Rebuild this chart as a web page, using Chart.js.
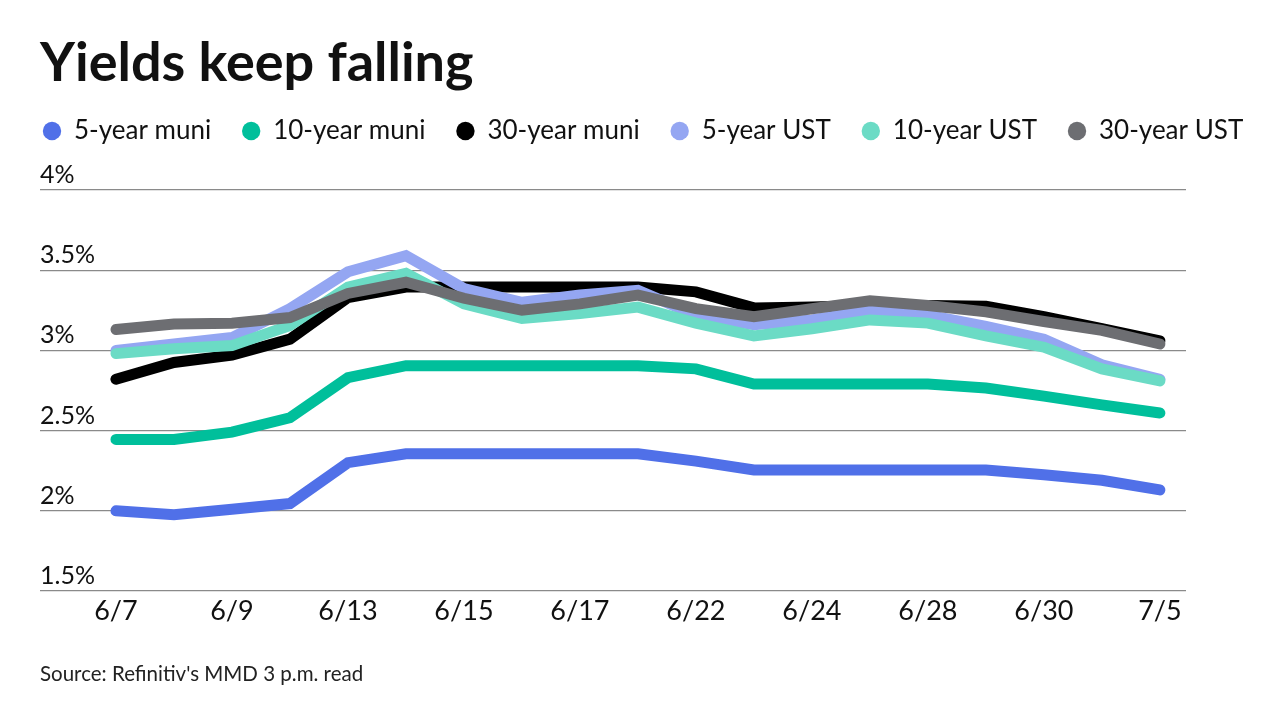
<!DOCTYPE html>
<html>
<head>
<meta charset="utf-8">
<script src="https://cdn.jsdelivr.net/npm/chart.js@4.4.1/dist/chart.umd.min.js"></script>
<style>
  html, body { margin: 0; padding: 0; background: #ffffff; }
  #wrap { width: 1280px; height: 720px; position: relative; }
</style>
</head>
<body>
<div id="wrap"><canvas id="c" width="1280" height="720"></canvas></div>
<script>
const titleText = 'Yields keep falling';
const sourceText = "Source: Refinitiv's MMD 3 p.m. read";

const dates = ['6/7','6/8','6/9','6/10','6/13','6/14','6/15','6/16','6/17','6/21','6/22','6/23','6/24','6/27','6/28','6/29','6/30','7/1','7/5'];
const xTickLabels = ['6/7','6/9','6/13','6/15','6/17','6/22','6/24','6/28','6/30','7/5'];
const yTicks = [1.5, 2, 2.5, 3, 3.5, 4];

const seriesNames = ['5-year muni','10-year muni','30-year muni','5-year UST','10-year UST','30-year UST'];
const seriesColors = ['#5070e8','#00bf9b','#000000','#94a6f2','#6bdbc5','#6d6e72'];

const muni5  = [2.00, 1.975, 2.01, 2.045, 2.30, 2.355, 2.355, 2.355, 2.355, 2.355, 2.31, 2.255, 2.255, 2.255, 2.255, 2.255, 2.225, 2.19, 2.13];
const muni10 = [2.445, 2.445, 2.49, 2.58, 2.83, 2.905, 2.905, 2.905, 2.905, 2.905, 2.885, 2.79, 2.79, 2.79, 2.79, 2.765, 2.715, 2.66, 2.61];
const muni30 = [2.82, 2.925, 2.97, 3.07, 3.33, 3.395, 3.395, 3.395, 3.395, 3.395, 3.365, 3.265, 3.27, 3.28, 3.28, 3.275, 3.21, 3.135, 3.06];
const ust5   = [3.00, 3.04, 3.08, 3.26, 3.49, 3.59, 3.385, 3.30, 3.345, 3.375, 3.22, 3.16, 3.19, 3.25, 3.22, 3.15, 3.07, 2.91, 2.82];
const ust10  = [2.98, 3.01, 3.03, 3.155, 3.395, 3.48, 3.29, 3.20, 3.23, 3.27, 3.17, 3.09, 3.135, 3.19, 3.17, 3.09, 3.02, 2.885, 2.81];
const ust30  = [3.13, 3.165, 3.17, 3.205, 3.355, 3.425, 3.325, 3.25, 3.29, 3.345, 3.26, 3.21, 3.26, 3.31, 3.28, 3.24, 3.18, 3.125, 3.04];

const seriesValues = [muni5, muni10, muni30, ust5, ust10, ust30];
const xTickIdx = xTickLabels.map(l => dates.indexOf(l));

const FONT = 'Lato, "Noto Sans", sans-serif';

const datasets = seriesNames.map((name, k) => ({
  label: name,
  data: seriesValues[k].map((v, i) => ({ x: i, y: v })),
  borderColor: seriesColors[k],
  backgroundColor: seriesColors[k],
  borderWidth: 11,
  borderCapStyle: 'round',
  borderJoinStyle: 'miter',
  pointRadius: 0,
  pointHoverRadius: 0,
  tension: 0,
  fill: false,
  order: seriesNames.length - 1 - k
}));

// place title, source and legend at the left margin of the design
const placePlugin = {
  id: 'placeText',
  afterLayout(chart) {
    chart.boxes.forEach(b => {
      if (b.options && (b.options.text === titleText || b.options.text === sourceText)) {
        b.left = 40;
      }
    });
    if (chart.legend) chart.legend.left = 12;
  }
};

new Chart(document.getElementById('c'), {
  type: 'line',
  data: { datasets },
  plugins: [placePlugin],
  options: {
    responsive: false,
    animation: false,
    layout: { padding: { top: 20, left: 0, right: 0, bottom: 33.7 } },
    plugins: {
      title: {
        display: true,
        text: titleText,
        align: 'start',
        color: '#111111',
        font: { family: FONT, size: 54, weight: 'bold', lineHeight: 0.7778 },
        padding: { top: 23, bottom: 2 }
      },
      subtitle: {
        display: true,
        text: sourceText,
        position: 'bottom',
        align: 'start',
        color: '#222222',
        font: { family: FONT, size: 20.5, lineHeight: 1.2 },
        padding: { top: 30.3, bottom: 0 }
      },
      legend: {
        display: true,
        position: 'top',
        align: 'start',
        labels: {
          usePointStyle: true,
          pointStyle: 'circle',
          boxWidth: 18,
          boxHeight: 13,
          padding: 31,
          color: '#111111',
          font: { family: FONT, size: 26 },
          sort: (a, b) => a.datasetIndex - b.datasetIndex,
          generateLabels(chart) {
            const items = Chart.defaults.plugins.legend.labels.generateLabels(chart);
            items.forEach(it => { it.lineWidth = 0; it.strokeStyle = 'rgba(0,0,0,0)'; });
            return items;
          }
        }
      },
      tooltip: { enabled: false }
    },
    scales: {
      x: {
        type: 'linear',
        min: -1.31,
        max: 18.45,
        afterBuildTicks(scale) { scale.ticks = xTickIdx.map(v => ({ value: v })); },
        grid: { display: false, drawTicks: false },
        border: { display: false },
        ticks: {
          padding: 4,
          color: '#111111',
          font: { family: FONT, size: 27, lineHeight: 1.2 },
          maxRotation: 0,
          autoSkip: false,
          callback: v => dates[v]
        }
      },
      xTop: {
        type: 'linear',
        position: 'top',
        display: true,
        grid: { display: false, drawTicks: false },
        border: { display: false },
        ticks: { display: false },
        afterFit(scale) { scale.height = 36; }
      },
      y: {
        type: 'linear',
        min: 1.5,
        max: 4,
        afterBuildTicks(scale) { scale.ticks = yTicks.map(v => ({ value: v })); },
        grid: { color: '#8a8a8a', lineWidth: 1.3, drawTicks: false },
        border: { display: false },
        afterFit(scale) { scale.width = 40; },
        ticks: {
          mirror: true,
          crossAlign: 'near',
          padding: 0,
          labelOffset: -15,
          color: '#111111',
          font: { family: FONT, size: 25 },
          callback: v => v + '%'
        }
      },
      yRight: {
        type: 'linear',
        position: 'right',
        display: true,
        grid: { display: false, drawTicks: false },
        border: { display: false },
        ticks: { display: false },
        afterFit(scale) { scale.width = 94; }
      }
    }
  }
});
</script>
</body>
</html>
